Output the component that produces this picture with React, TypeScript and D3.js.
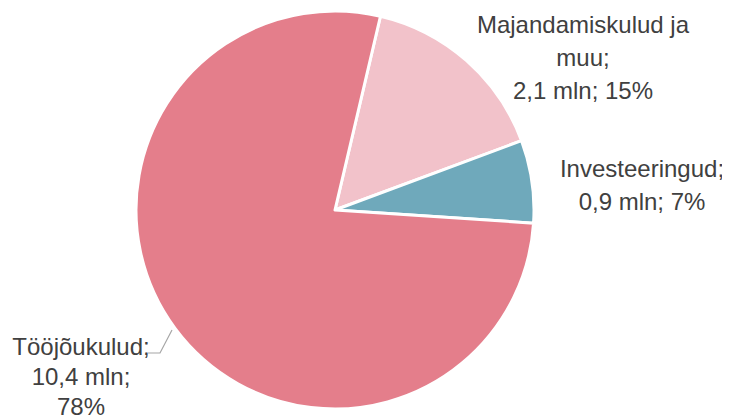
import * as d3 from 'd3';

// slices in drawing order, clockwise from the top
const categories = ['Majandamiskulud ja muu', 'Investeeringud', 'Tööjõukulud'];
const values = [2.1, 0.9, 10.4];
const colors = ['#F2C2CA', '#6FA9BB', '#E47E8B'];
// label lines as shown on the chart
const labelLines = [
  ['Majandamiskulud ja', 'muu;', '2,1 mln; 15%'],
  ['Investeeringud;', '0,9 mln; 7%'],
  ['Tööjõukulud;', '10,4 mln;', '78%'],
];

const width = 730;
const height = 419;

const App = () => {
  const cx = 335;
  const cy = 210;
  const radius = 199;
  const start = (13.2 * Math.PI) / 180;

  const pie = d3
    .pie<number>()
    .sort(null)
    .value((d) => d)
    .startAngle(start)
    .endAngle(start + 2 * Math.PI);
  const arcs = pie(values);
  const arc = d3.arc<d3.PieArcDatum<number>>().innerRadius(0).outerRadius(radius);

  // label anchor points (centre x, first baseline y, line step)
  const labelPos = [
    { x: 583, y: 33, step: 33 },
    { x: 642, y: 177, step: 33 },
    { x: 81, y: 355, step: 30 },
  ];

  return (
    <div style={{ margin: -8 }}>
      <svg width={width} height={height} viewBox={`0 0 ${width} ${height}`}>
        <rect width={width} height={height} fill="#ffffff" />
        <g transform={`translate(${cx},${cy})`}>
          {arcs.map((a, i) => (
            <path
              key={categories[i]}
              d={arc(a) || ''}
              fill={colors[i]}
              stroke="#ffffff"
              strokeWidth={3}
              strokeLinejoin="round"
            />
          ))}
        </g>
        <polyline
          points="148,353 160,353 172,330"
          fill="none"
          stroke="#A6A6A6"
          strokeWidth={1.2}
        />
        {labelLines.map((lines, i) => (
          <text
            key={categories[i]}
            x={labelPos[i].x}
            y={labelPos[i].y}
            textAnchor="middle"
            fontFamily="'Liberation Sans', Arial, sans-serif"
            fontSize={24}
            fill="#404040"
          >
            {lines.map((l, j) => (
              <tspan key={j} x={labelPos[i].x} y={labelPos[i].y + j * labelPos[i].step}>
                {l}
              </tspan>
            ))}
          </text>
        ))}
      </svg>
    </div>
  );
};

export default App;
